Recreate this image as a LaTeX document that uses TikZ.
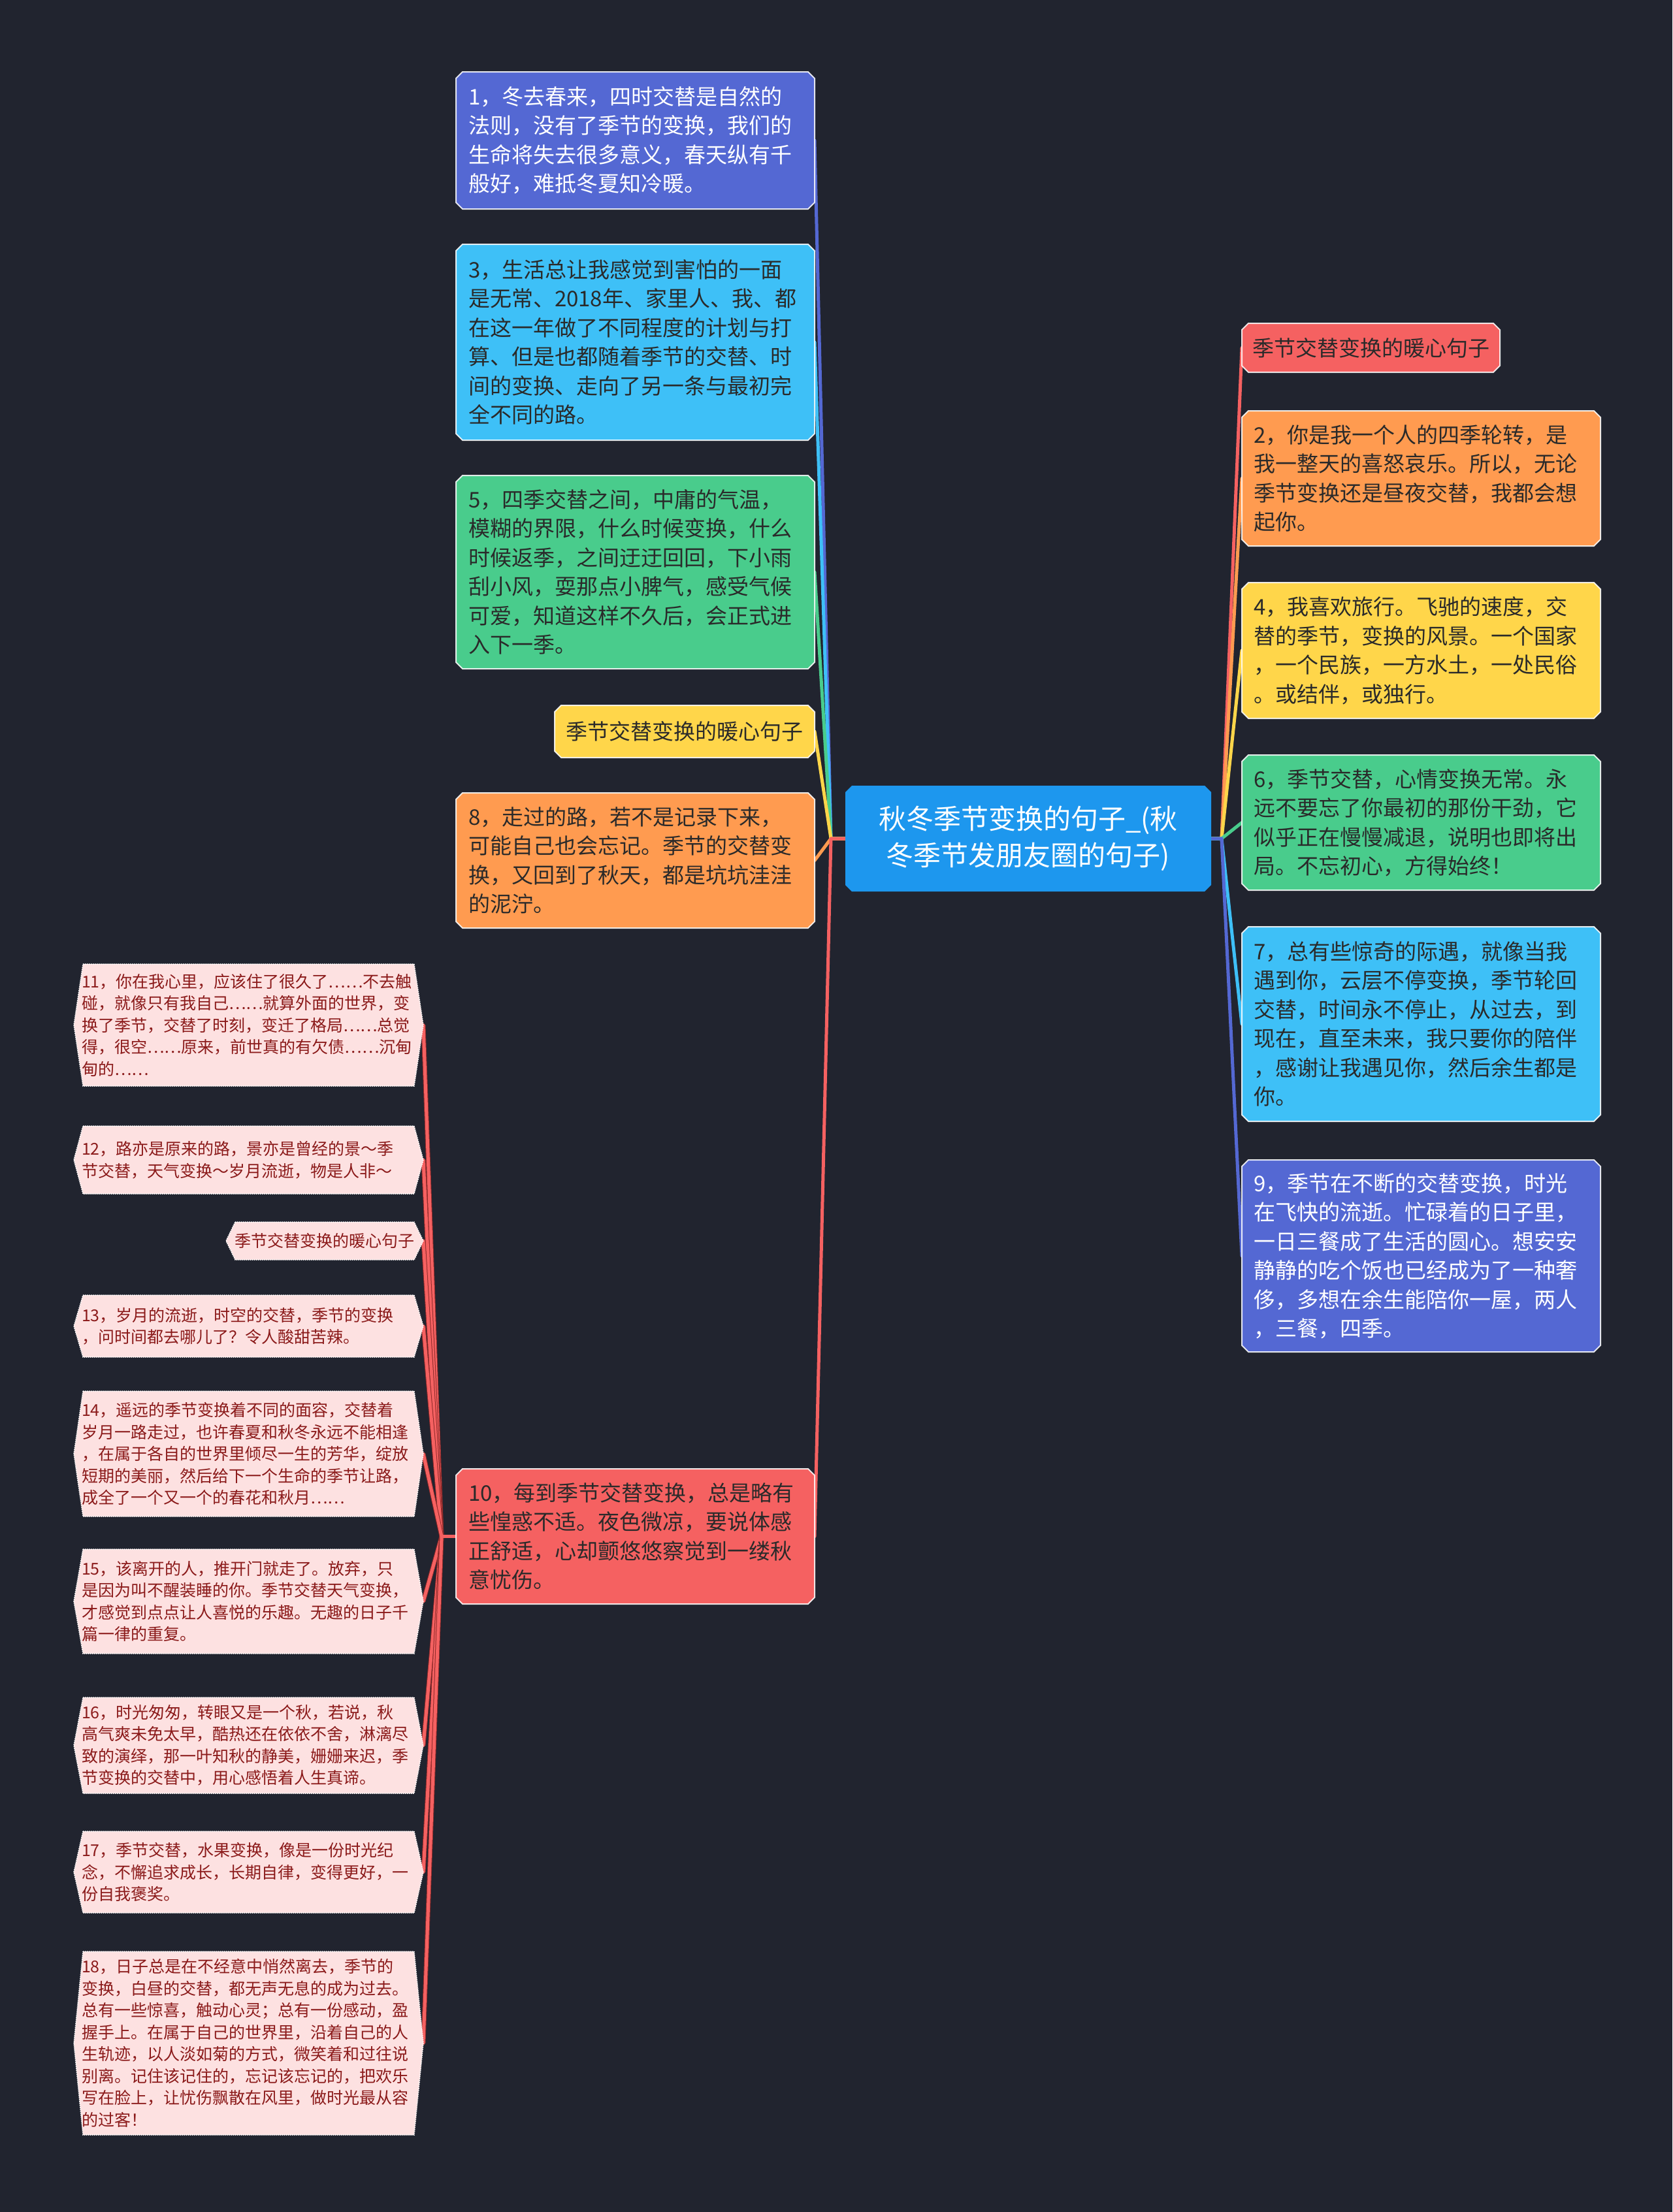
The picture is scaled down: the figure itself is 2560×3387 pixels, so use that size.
\documentclass[tikz,border=0pt]{standalone}
\usepackage{fontspec}
\setmainfont{Noto Sans CJK SC}
\usetikzlibrary{calc}
\definecolor{bgc}{HTML}{21242F}
\definecolor{cpur}{HTML}{5468D3}
\definecolor{cblu}{HTML}{3EC0F7}
\definecolor{cgrn}{HTML}{49CC8C}
\definecolor{cyel}{HTML}{FFD64A}
\definecolor{corg}{HTML}{FF9B50}
\definecolor{cred}{HTML}{F56161}
\definecolor{croot}{HTML}{1D97EE}
\definecolor{cpink}{HTML}{FDE1E1}
\definecolor{cptxt}{HTML}{8B1A1A}
\definecolor{cdtxt}{HTML}{2A2A2A}
\definecolor{cpdark}{HTML}{8E2A2A}
\pgfdeclarelayer{bgl}
\pgfdeclarelayer{shp}
\pgfsetlayers{bgl,shp,main}
\newcommand\chbox[2]{%
 \path[#2] ($(#1.north west)+(10,0)$) -- ($(#1.north east)+(-10,0)$) -- ($(#1.north east)+(0,10)$) -- ($(#1.south east)+(0,-10)$) -- ($(#1.south east)+(-10,0)$) -- ($(#1.south west)+(10,0)$) -- ($(#1.south west)+(0,-10)$) -- ($(#1.north west)+(0,10)$) -- cycle;}
\newcommand\hexbox[2]{%
 \path[#2] ($(#1.north west)+(14,0)$) -- ($(#1.north east)+(-14,0)$) -- (#1.east) -- ($(#1.south east)+(-14,0)$) -- ($(#1.south west)+(14,0)$) -- (#1.west) -- cycle;}
\tikzset{
 basebox/.style={rectangle, outer sep=0pt, inner ysep=0pt},
 mainbox/.style={basebox, align=left, text width=511pt, inner xsep=19pt, font=\fontsize{33}{44.5}\selectfont, text=cdtxt},
 lblbox/.style={basebox, align=center, font=\fontsize{33}{44.5}\selectfont, text=cdtxt},
 pinkbox/.style={basebox, align=left, text width=511pt, inner xsep=12pt, font=\fontsize{25}{33.5}\selectfont, text=cptxt},
 mshape/.style={fill=#1, draw=white, draw opacity=.85, line width=2pt},
 pshape/.style={fill=cpink, draw=white, line width=1.5pt, dash pattern=on 1.5pt off 1.5pt},
 conn/.style={line width=5pt, line cap=round, line join=round, draw=#1},
 pconn/.style={line width=5pt, line cap=round, draw=cred, preaction={draw=cpdark, line width=7pt}},
}
\begin{document}
\begin{tikzpicture}[x=1pt,y=-1pt]
\useasboundingbox (0,0) rectangle (2560,3387);
\begin{pgfonlayer}{bgl}
\fill[bgc] (0,0) rectangle (2560,3387);
\end{pgfonlayer}
% root
\node[basebox, align=center, text width=520pt, minimum width=560pt, minimum height=162pt, text=white, font=\fontsize{42}{56}\selectfont] (root) at (1574,1284) {秋冬季节变换的句子\_(秋\\冬季节发朋友圈的句子)};
% left main column
\node[mainbox, text=white, minimum height=210pt] (n1) at (972.5,215) {1，冬去春来，四时交替是自然的\\法则，没有了季节的变换，我们的\\生命将失去很多意义，春天纵有千\\般好，难抵冬夏知冷暖。};
\node[mainbox, minimum height=300pt] (n3) at (972.5,524) {3，生活总让我感觉到害怕的一面\\是无常、2018年、家里人、我、都\\在这一年做了不同程度的计划与打\\算、但是也都随着季节的交替、时\\间的变换、走向了另一条与最初完\\全不同的路。};
\node[mainbox, minimum height=296pt] (n5) at (972.5,876) {5，四季交替之间，中庸的气温，\\模糊的界限，什么时候变换，什么\\时候返季，之间迂迂回回，下小雨\\刮小风，耍那点小脾气，感受气候\\可爱，知道这样不久后，会正式进\\入下一季。};
\node[lblbox, minimum width=398pt, minimum height=80pt] (lbl) at (1048,1120) {季节交替变换的暖心句子};
\node[mainbox, minimum height=207pt] (n8) at (972.5,1317.5) {8，走过的路，若不是记录下来，\\可能自己也会忘记。季节的交替变\\换，又回到了秋天，都是坑坑洼洼\\的泥泞。};
\node[mainbox, minimum height=207pt] (n10) at (972.5,2352.5) {10，每到季节交替变换，总是略有\\些惶惑不适。夜色微凉，要说体感\\正舒适，心却颤悠悠察觉到一缕秋\\意忧伤。};
% right column
\node[lblbox, minimum width=395pt, minimum height=75pt] (lbr) at (2098.5,532.5) {季节交替变换的暖心句子};
\node[mainbox, minimum height=207pt, inner xsep=18pt, text width=513pt] (n2) at (2175.5,732.5) {2，你是我一个人的四季轮转，是\\我一整天的喜怒哀乐。所以，无论\\季节变换还是昼夜交替，我都会想\\起你。};
\node[mainbox, minimum height=208pt, inner xsep=18pt, text width=513pt] (n4) at (2175.5,996) {4，我喜欢旅行。飞驰的速度，交\\替的季节，变换的风景。一个国家\\，一个民族，一方水土，一处民俗\\。或结伴，或独行。};
\node[mainbox, minimum height=207pt, inner xsep=18pt, text width=513pt] (n6) at (2175.5,1259.5) {6，季节交替，心情变换无常。永\\远不要忘了你最初的那份干劲，它\\似乎正在慢慢减退，说明也即将出\\局。不忘初心，方得始终！};
\node[mainbox, minimum height=298pt, inner xsep=18pt, text width=513pt] (n7) at (2175.5,1568) {7，总有些惊奇的际遇，就像当我\\遇到你，云层不停变换，季节轮回\\交替，时间永不停止，从过去，到\\现在，直至未来，我只要你的陪伴\\，感谢让我遇见你，然后余生都是\\你。};
\node[mainbox, text=white, minimum height=294pt, inner xsep=18pt, text width=513pt] (n9) at (2175.5,1923) {9，季节在不断的交替变换，时光\\在飞快的流逝。忙碌着的日子里，\\一日三餐成了生活的圆心。想安安\\静静的吃个饭也已经成为了一种奢\\侈，多想在余生能陪你一屋，两人\\，三餐，四季。};
% pink column
\node[pinkbox, minimum height=187pt] (p11) at (380.5,1569.5) {11，你在我心里，应该住了很久了……不去触\\碰，就像只有我自己……就算外面的世界，变\\换了季节，交替了时刻，变迁了格局……总觉\\得，很空……原来，前世真的有欠债……沉甸\\甸的……};
\node[pinkbox, minimum height=104pt] (p12) at (380.5,1776) {12，路亦是原来的路，景亦是曾经的景～季\\节交替，天气变换～岁月流逝，物是人非～};
\node[basebox, align=center, minimum width=302pt, minimum height=58pt, font=\fontsize{25}{33.5}\selectfont, text=cptxt] (plbl) at (497,1900) {季节交替变换的暖心句子};
\node[pinkbox, minimum height=95pt] (p13) at (380.5,2030.5) {13，岁月的流逝，时空的交替，季节的变换\\，问时间都去哪儿了？令人酸甜苦辣。};
\node[pinkbox, minimum height=192pt] (p14) at (380.5,2226) {14，遥远的季节变换着不同的面容，交替着\\岁月一路走过，也许春夏和秋冬永远不能相逢\\，在属于各自的世界里倾尽一生的芳华，绽放\\短期的美丽，然后给下一个生命的季节让路，\\成全了一个又一个的春花和秋月……};
\node[pinkbox, minimum height=160pt] (p15) at (380.5,2452) {15，该离开的人，推开门就走了。放弃，只\\是因为叫不醒装睡的你。季节交替天气变换，\\才感觉到点点让人喜悦的乐趣。无趣的日子千\\篇一律的重复。};
\node[pinkbox, minimum height=147pt] (p16) at (380.5,2672.5) {16，时光匆匆，转眼又是一个秋，若说，秋\\高气爽未免太早，酷热还在依依不舍，淋漓尽\\致的演绎，那一叶知秋的静美，姗姗来迟，季\\节变换的交替中，用心感悟着人生真谛。};
\node[pinkbox, minimum height=125pt] (p17) at (380.5,2866.5) {17，季节交替，水果变换，像是一份时光纪\\念，不懈追求成长，长期自律，变得更好，一\\份自我褒奖。};
\node[pinkbox, minimum height=281pt] (p18) at (380.5,3128.5) {18，日子总是在不经意中悄然离去，季节的\\变换，白昼的交替，都无声无息的成为过去。\\总有一些惊喜，触动心灵；总有一份感动，盈\\握手上。在属于自己的世界里，沿着自己的人\\生轨迹，以人淡如菊的方式，微笑着和过往说\\别离。记住该记住的，忘记该忘记的，把欢乐\\写在脸上，让忧伤飘散在风里，做时光最从容\\的过客！};
% shapes
\begin{pgfonlayer}{shp}
\chbox{root}{fill=croot}
\chbox{n1}{mshape=cpur}
\chbox{n3}{mshape=cblu}
\chbox{n5}{mshape=cgrn}
\chbox{lbl}{mshape=cyel}
\chbox{n8}{mshape=corg}
\chbox{n10}{mshape=cred}
\chbox{lbr}{mshape=cred}
\chbox{n2}{mshape=corg}
\chbox{n4}{mshape=cyel}
\chbox{n6}{mshape=cgrn}
\chbox{n7}{mshape=cblu}
\chbox{n9}{mshape=cpur}
\hexbox{p11}{pshape}
\hexbox{p12}{pshape}
\hexbox{plbl}{pshape}
\hexbox{p13}{pshape}
\hexbox{p14}{pshape}
\hexbox{p15}{pshape}
\hexbox{p16}{pshape}
\hexbox{p17}{pshape}
\hexbox{p18}{pshape}
\end{pgfonlayer}
% connectors
\begin{pgfonlayer}{bgl}
\coordinate (cl) at (1272,1284);
\coordinate (cr) at (1870,1284);
\coordinate (cp) at (676,2352.5);
\draw[conn=cpur] (root.west) -- (cl) -- (n1.east);
\draw[conn=cblu] (root.west) -- (cl) -- (n3.east);
\draw[conn=cgrn] (root.west) -- (cl) -- (n5.east);
\draw[conn=cyel] (root.west) -- (cl) -- (lbl.east);
\draw[conn=corg] (root.west) -- (cl) -- (n8.east);
\draw[conn=cred] (root.west) -- (cl) -- (n10.east);
\draw[conn=cred] (root.east) -- (cr) -- (lbr.west);
\draw[conn=corg] (root.east) -- (cr) -- (n2.west);
\draw[conn=cyel] (root.east) -- (cr) -- (n4.west);
\draw[conn=cgrn] (root.east) -- (cr) -- (n6.west);
\draw[conn=cblu] (root.east) -- (cr) -- (n7.west);
\draw[conn=cpur] (root.east) -- (cr) -- (n9.west);
\draw[pconn] (cp) -- (p11.east);
\draw[pconn] (cp) -- (p12.east);
\draw[pconn] (cp) -- (plbl.east);
\draw[pconn] (cp) -- (p13.east);
\draw[pconn] (cp) -- (p14.east);
\draw[pconn] (cp) -- (p15.east);
\draw[pconn] (cp) -- (p16.east);
\draw[pconn] (cp) -- (p17.east);
\draw[pconn] (cp) -- (p18.east);
\draw[conn=cred] (n10.west) -- (cp);
\end{pgfonlayer}
\end{tikzpicture}
\end{document}
